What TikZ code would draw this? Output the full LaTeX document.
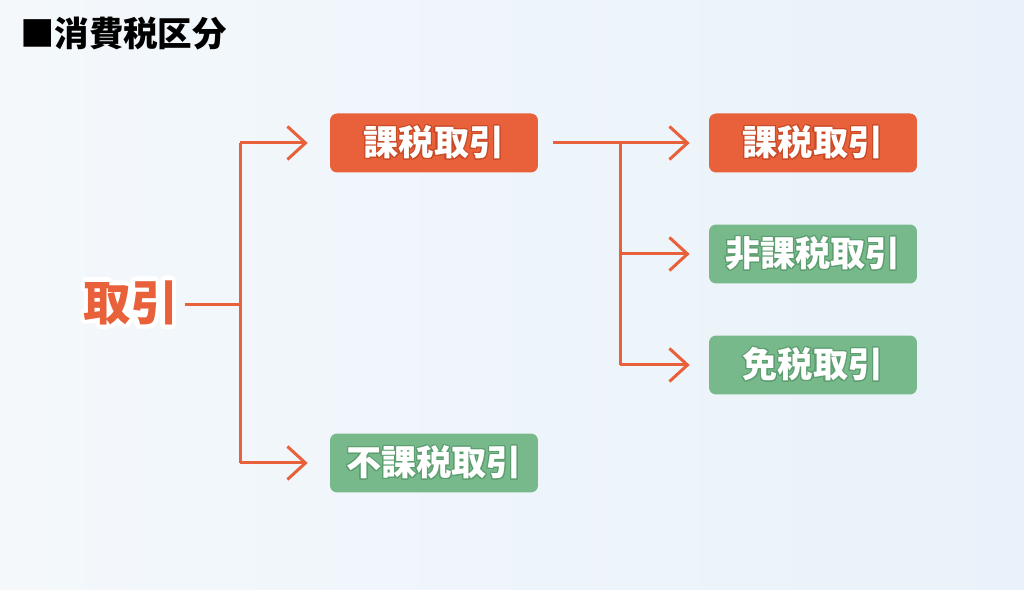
\documentclass[tikz,border=0pt]{standalone}
\usepackage{fontspec}
\usepackage{contour}
\usetikzlibrary{arrows.meta}
\newfontfamily\jpfont{Noto Sans CJK JP}
\newfontfamily\jpblack{Noto Sans CJK JP Black}
\definecolor{taxred}{HTML}{E8613A}
\definecolor{taxredd}{HTML}{C94A27}
\definecolor{taxgreen}{HTML}{77B98A}
\definecolor{taxgreend}{HTML}{5C9E6F}
\definecolor{bgleft}{HTML}{F4F8FB}
\definecolor{bgright}{HTML}{E9F2FA}
\contournumber{24}

\begin{document}
\begin{tikzpicture}[x=0.02cm, y=-0.02cm,
every node/.style = {font=\jpfont\bfseries, align=center},
box/.style = {rounded corners=4pt, minimum width=4.16cm, minimum height=1.18cm,
	text=white, font=\jpfont\bfseries\fontsize{20}{20}\selectfont},
redbox/.style = {box, fill=taxred},
greenbox/.style = {box, fill=taxgreen},
link/.style = {draw=taxred, line width=0.06cm},
arrow/.style = {link, -{Straight Barb[length=0.36cm, width=0.66cm, line width=0.06cm]}}]
	\shade[left color=bgleft, right color=bgright] (0,0) rectangle (1024,590);
	\useasboundingbox (0,0) rectangle (1024,590);
	\node[anchor=west, font=\jpblack\fontsize{19.6}{20}\selectfont] (title) at (14,34) {■消費税区分};
	% root and first level
	\node[text=taxred, font=\jpfont\bfseries\fontsize{27}{27}\selectfont] (root) at (131,305)
		{\contourlength{2.5pt}\contour{white}{取引}};
	\node[redbox] (kazei) at (434,143) {\contourlength{0.6pt}\contour{taxredd}{課税取引}};
	\node[greenbox] (fukazei) at (434,463) {\contourlength{0.6pt}\contour{taxgreend}{不課税取引}};
	% second level
	\node[redbox] (kazei2) at (813,143) {\contourlength{0.6pt}\contour{taxredd}{課税取引}};
	\node[greenbox] (hikazei) at (813,254) {\contourlength{0.6pt}\contour{taxgreend}{非課税取引}};
	\node[greenbox] (menzei) at (813,365) {\contourlength{0.6pt}\contour{taxgreend}{免税取引}};
	\coordinate (jointA) at (240,305);
	\coordinate (jointB) at (620,143);
	\draw[link] (root.east) -- (jointA);
	\draw[link] (jointA |- kazei.west) -- (jointA |- fukazei.west);
	\draw[arrow, shorten >=0.44cm] (jointA |- kazei.west) -- (kazei.west);
	\draw[arrow, shorten >=0.44cm] (jointA |- fukazei.west) -- (fukazei.west);
	\draw[link] (jointB) -- (jointB |- menzei.west);
	\draw[arrow, shorten <=0.3cm, shorten >=0.38cm] (kazei.east) -- (kazei2.west);
	\draw[arrow, shorten >=0.38cm] (jointB |- hikazei.west) -- (hikazei.west);
	\draw[arrow, shorten >=0.38cm] (jointB |- menzei.west) -- (menzei.west);
\end{tikzpicture}
\end{document}
